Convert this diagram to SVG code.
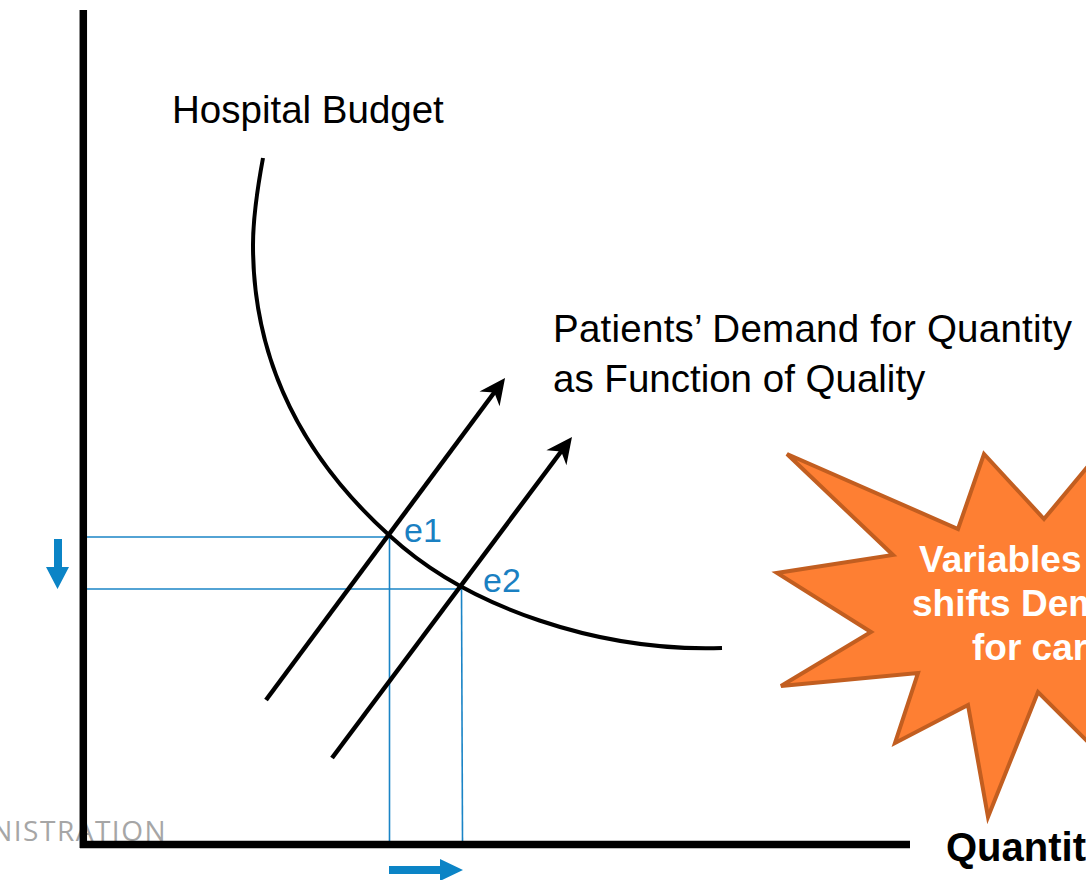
<svg xmlns="http://www.w3.org/2000/svg" width="1086" height="880" viewBox="0 0 1086 880">
  <style>
    .label { font-family: "Liberation Sans", Arial, sans-serif; fill: #000; }
    .pt { font-family: "Liberation Sans", Arial, sans-serif; fill: #1a80c2; font-size: 34px; }
    .guide { stroke: #1a84c6; stroke-width: 1.6; fill: none; }
    .axis { stroke: #000; stroke-width: 7.5; fill: none; }
    .curve { stroke: #000; stroke-width: 4; fill: none; }
    .demand { stroke: #000; stroke-width: 4.5; fill: none; marker-end: url(#head); }
    .shift { fill: #0b84c6; }
    .burst-text { font-family: "Liberation Sans", Arial, sans-serif; font-weight: bold; font-size: 37px; fill: #fff; }
  </style>
  <defs>
    <marker id="head" markerUnits="userSpaceOnUse" markerWidth="32" markerHeight="32" viewBox="-14 -16 32 32" refX="0" refY="0" orient="auto">
      <path d="M15,0 L-11,-12.5 L-3,0 L-11,12.5 Z" fill="#000"/>
    </marker>
  </defs>
  <rect width="1086" height="880" fill="#fff"/>

  <!-- footer text partly hidden under the axis -->
  <text x="167" y="841" text-anchor="end" font-family="'Open Sans', sans-serif" font-size="28" letter-spacing="1.5" fill="#a6a6a6">NISTRATION</text>

  <!-- guides from the equilibria to the axes -->
  <g id="guides">
    <line class="guide" x1="87" y1="537" x2="390" y2="537"/>
    <line class="guide" x1="87" y1="589" x2="461" y2="589"/>
    <line class="guide" x1="389.5" y1="536" x2="389.5" y2="841"/>
    <line class="guide" x1="461.5" y1="588" x2="462.5" y2="841"/>
  </g>

  <!-- axes -->
  <g id="axes">
    <line class="axis" x1="83.3" y1="10" x2="83.3" y2="848"/>
    <line class="axis" x1="80" y1="844.5" x2="910" y2="844.5"/>
  </g>

  <!-- budget curve -->
  <g id="budget">
    <path class="curve" d="M263,158 C258,185 253,215 253,245 C253,380 320,473 390,536 C468,608 600,652 722,648"/>
    <text class="label" x="172" y="123" font-size="38.5">Hospital Budget</text>
  </g>

  <!-- demand lines -->
  <g id="connectors">
    <line class="demand" x1="266" y1="700" x2="496.1" y2="390"/>
    <line class="demand" x1="332" y1="758" x2="563" y2="449"/>
  </g>

  <g id="demand-label">
    <text class="label" x="553" y="342" font-size="38.5" textLength="519" lengthAdjust="spacing">Patients’ Demand for Quantity</text>
    <text class="label" x="553" y="392" font-size="38.5">as Function of Quality</text>
  </g>

  <g id="e1"><text class="pt" x="404" y="542">e1</text></g>
  <g id="e2"><text class="pt" x="483" y="592">e2</text></g>

  <!-- shift arrows -->
  <g id="shift-down">
    <path class="shift" d="M54,539 H62 V567 H69 L57.5,589 L46,567 H54 Z"/>
  </g>
  <g id="shift-right">
    <path class="shift" d="M389,866 H440 V859 L463,870 L440,881 V874 H389 Z"/>
  </g>

  <!-- burst callout -->
  <g id="burst">
    <polygon points="787,454 958,529 984,454 1044,519 1110,440 1200,600 1110,764 1038,692 988,817 968,705 895,743 918,673 781,686 871,632 777,573 893,555" fill="#fe7f33" stroke="#c25e20" stroke-width="4" stroke-linejoin="miter"/>
    <text class="burst-text" x="919" y="572">Variables</text>
    <text class="burst-text" x="912" y="616">shifts Demand</text>
    <text class="burst-text" x="972" y="660">for care</text>
  </g>

  <g id="x-label">
    <text class="label" x="946" y="861" font-size="40" font-weight="bold">Quantity</text>
  </g>
</svg>
